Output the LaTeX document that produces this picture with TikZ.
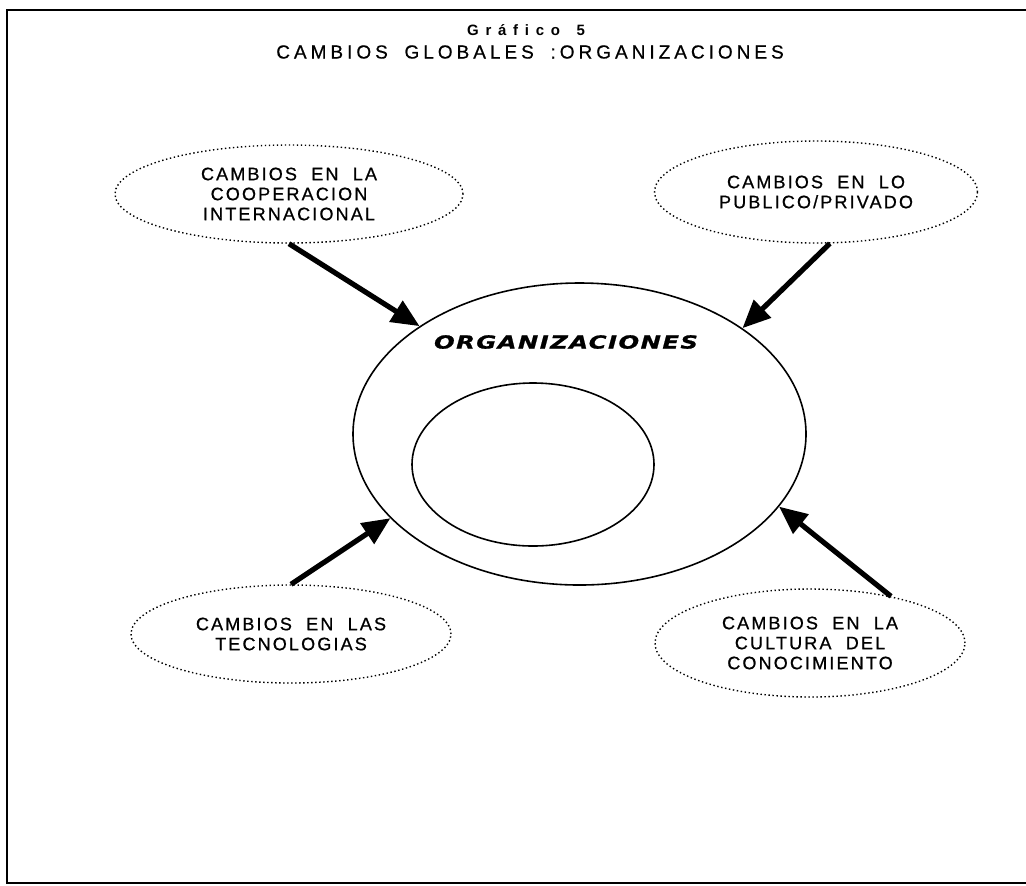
\documentclass[tikz,border=0pt]{standalone}
\usepackage{fontspec}
\setmainfont{Liberation Sans}
\newfontfamily\spacedfont[LetterSpace=12,WordSpace=2,FakeBold=0.8]{Liberation Sans}
\newfontfamily\titlefont[LetterSpace=21,WordSpace=1.8,FakeBold=0.6]{Liberation Sans}
\newfontfamily\gfont[LetterSpace=45,WordSpace=1.5]{Liberation Sans}
\newfontfamily\orgfont[LetterSpace=8,FakeStretch=1.35,FakeBold=1]{DejaVu Sans}
\usetikzlibrary{shapes.geometric, arrows.meta, positioning}
\tikzstyle{bubble} = [ellipse, draw=black, line width=0.7pt, dash pattern=on 0.7pt off 1.3pt, inner sep=0pt, text centered, align=center, font=\spacedfont\fontsize{9}{10}\selectfont]
\tikzstyle{ring} = [ellipse, draw=black, line width=0.8pt, inner sep=0pt]
\tikzstyle{arrow} = [line width=2.6pt, -{Triangle[length=14pt,width=12pt]}]
\tikzstyle{frame} = [line width=1.2pt]
\begin{document}
\begin{tikzpicture}[x=0.5pt, y=-0.5pt]

    \useasboundingbox (0,0) rectangle (1026,885);
    \draw [frame] (1026,10) -- (7,10) -- (7,883) -- (1026,883);

    \node (grafico) [font=\gfont\bfseries\fontsize{7.5}{8}\selectfont] at (526,30) {Gráfico 5};
    \node (maintitle) [font=\titlefont\fontsize{9.5}{10}\selectfont] at (530,52) {CAMBIOS GLOBALES :ORGANIZACIONES};

    \node (coop) [bubble, minimum width=174pt, minimum height=49pt] at (289,194) {CAMBIOS EN LA\\COOPERACION\\INTERNACIONAL};
    \node (pub) [bubble, minimum width=161.5pt, minimum height=51pt] at (816,192) {CAMBIOS EN LO\\PUBLICO/PRIVADO};

    \node (org) [ring, minimum width=226.5pt, minimum height=151pt] at (579.5,434) {};
    \node (core) [ring, minimum width=121pt, minimum height=81.5pt] at (533,464.5) {};
    \node (orgname) [font=\orgfont\bfseries\itshape\fontsize{9}{10}\selectfont] at (566,342) {ORGANIZACIONES};

    \node (tec) [bubble, minimum width=160pt, minimum height=49pt] at (291,634) {CAMBIOS EN LAS\\TECNOLOGIAS};
    \node (cult) [bubble, minimum width=155pt, minimum height=54pt] at (810,643) {CAMBIOS EN LA\\CULTURA DEL\\CONOCIMIENTO};

    \draw [arrow] (coop.south) -- (org.146);
    \draw [arrow] (pub.285) -- (org.33);
    \draw [arrow] (tec.north) -- (org.204);
    \draw [arrow] (cult.30) -- (org.340);

\end{tikzpicture}
\end{document}
